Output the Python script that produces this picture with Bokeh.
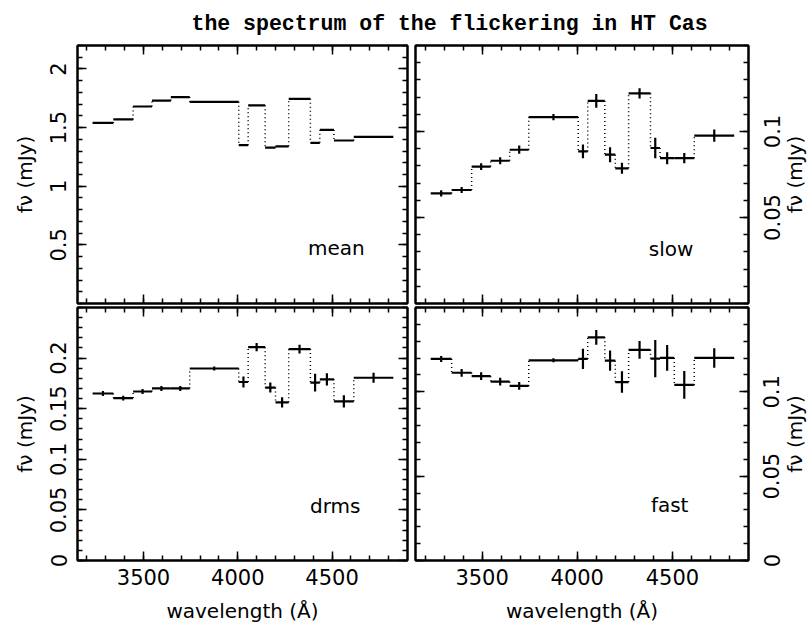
import math
import numpy as np
from bokeh.plotting import figure
from bokeh.models import (LinearAxis, FixedTicker, PrintfTickFormatter, Range1d,
                          Label, ColumnDataSource)
from bokeh.layouts import column, row
from bokeh.embed import file_html
from bokeh.resources import INLINE

# ---------------- data ----------------
bin_edges = [3230, 3340, 3445, 3545, 3645, 3745, 4005, 4055, 4145, 4200,
             4270, 4385, 4435, 4510, 4615, 4825]

mean_flux = [1.54, 1.57, 1.68, 1.73, 1.76, 1.72, 1.35, 1.69, 1.33, 1.34,
             1.745, 1.37, 1.48, 1.39, 1.42]

slow_flux = [0.064, 0.066, 0.0796, 0.083, 0.0894, 0.1084, 0.0884, 0.1178,
             0.0865, 0.0786, 0.1222, 0.0904, 0.0845, 0.0845, 0.0976]
slow_err = [0.0018, 0.0018, 0.002, 0.002, 0.0024, 0.0018, 0.004, 0.004,
            0.0044, 0.0032, 0.003, 0.006, 0.0035, 0.003, 0.0035]

drms_flux = [0.165, 0.1605, 0.167, 0.170, 0.170, 0.1897, 0.1764, 0.2108,
             0.1709, 0.1563, 0.2089, 0.1758, 0.179, 0.1573, 0.1806]
drms_err = [0.0024, 0.0024, 0.0024, 0.0024, 0.0024, 0.002, 0.0054, 0.004,
            0.005, 0.005, 0.0044, 0.0088, 0.006, 0.006, 0.005]

fast_flux = [0.1195, 0.1113, 0.1093, 0.106, 0.1035, 0.1187, 0.1195, 0.1323,
             0.1185, 0.1058, 0.1249, 0.1197, 0.1201, 0.1041, 0.1201]
fast_err = [0.0018, 0.0023, 0.0023, 0.0023, 0.0023, 0.0012, 0.006, 0.0044,
            0.006, 0.0064, 0.0053, 0.011, 0.0076, 0.0082, 0.0058]

x_major = [3500, 4000, 4500]
mean_major = [0.5, 1, 1.5, 2]
slow_major = [0.05, 0.1]
drms_major = [0, 0.05, 0.1, 0.15, 0.2]
fast_major = [0, 0.05, 0.1]

title_text = "the spectrum of the flickering in HT Cas"
y_label = "f\u03bd (mJy)"
x_label = "wavelength (\u00c5)"

# ---------------- styling ----------------
FONT = "DejaVu Sans"
FS = "20px"
TFS = "21px"
X_RANGE = (3150, 4900)


def make_fig(w, h, mbl, mbr, mbt, mbb, y_range):
    p = figure(width=w, height=h, x_range=Range1d(*X_RANGE),
               y_range=y_range, x_axis_location=None,
               y_axis_location=None, toolbar_location=None, tools="",
               output_backend="svg", min_border_left=mbl, min_border_right=mbr,
               min_border_top=mbt, min_border_bottom=mbb)
    p.outline_line_color = "black"
    p.outline_line_width = 2
    p.xgrid.visible = False
    p.ygrid.visible = False
    p.background_fill_color = "white"
    p.border_fill_color = "white"
    return p


def add_axis(p, side, ticker, labeled, axis_label=None, orient=None,
             standoff=8, label_standoff=8):
    ax = LinearAxis(ticker=ticker, formatter=PrintfTickFormatter(format="%g"))
    ax.major_tick_in = 9
    ax.major_tick_out = 0
    ax.minor_tick_in = 5
    ax.minor_tick_out = 0
    ax.major_tick_line_width = 1.5
    ax.minor_tick_line_width = 1.5
    ax.axis_line_width = 2
    if labeled:
        ax.major_label_text_font = FONT
        ax.major_label_text_font_size = TFS
        ax.major_label_text_color = "black"
        ax.major_label_standoff = standoff
        if orient is not None:
            ax.major_label_orientation = orient
    else:
        ax.major_label_text_color = None
        ax.major_label_standoff = 0
    if axis_label:
        ax.axis_label = axis_label
        ax.axis_label_text_font = FONT
        ax.axis_label_text_font_size = FS
        ax.axis_label_text_font_style = "normal"
        ax.axis_label_text_color = "black"
        ax.axis_label_standoff = label_standoff
    p.add_layout(ax, side)
    return ax


def side_strip(w, h, mbt, mbb, y_range, ticker, mode):
    """Narrow strip to the right of a panel, sharing its y range, that holds
    the right-hand tick numbers or the right-hand axis title (read upward)."""
    s = figure(width=w, height=h, x_range=Range1d(0, 1), y_range=y_range,
               x_axis_location=None, y_axis_location=None,
               toolbar_location=None, tools="", output_backend="svg",
               min_border_left=w - 1, min_border_right=0,
               min_border_top=mbt, min_border_bottom=mbb)
    s.outline_line_color = None
    s.xgrid.visible = False
    s.ygrid.visible = False
    s.background_fill_color = "white"
    s.border_fill_color = "white"
    ax = LinearAxis(ticker=ticker, formatter=PrintfTickFormatter(format="%g"))
    ax.major_tick_in = 0
    ax.major_tick_out = 0
    ax.minor_tick_in = 0
    ax.minor_tick_out = 0
    ax.axis_line_color = None
    ax.major_tick_line_color = None
    ax.minor_tick_line_color = None
    if mode == "ticks":
        ax.major_label_text_font = FONT
        ax.major_label_text_font_size = TFS
        ax.major_label_text_color = "black"
        ax.major_label_orientation = "parallel"
        ax.major_label_standoff = 3
    else:
        ax.major_label_text_color = None
        ax.major_label_standoff = 0
        ax.axis_label = y_label
        ax.axis_label_text_font = FONT
        ax.axis_label_text_font_size = FS
        ax.axis_label_text_font_style = "normal"
        ax.axis_label_text_color = "black"
        ax.axis_label_standoff = 3
    s.add_layout(ax, "left")
    return s


def draw_steps(p, vals, errs=None):
    e = np.array(bin_edges, dtype=float)
    v = np.array(vals, dtype=float)
    src = ColumnDataSource(dict(x0=e[:-1], x1=e[1:], y=v))
    p.segment(x0="x0", y0="y", x1="x1", y1="y", source=src,
              line_width=2.2, line_color="black")
    con = ColumnDataSource(dict(x=e[1:-1], ya=v[:-1], yb=v[1:]))
    p.segment(x0="x", y0="ya", x1="x", y1="yb", source=con,
              line_width=1.5, line_color="black", line_dash="1 3")
    if errs is not None:
        er = np.array(errs, dtype=float)
        xc = (e[:-1] + e[1:]) / 2.0
        esrc = ColumnDataSource(dict(x=xc, lo=v - er, hi=v + er))
        p.segment(x0="x", y0="lo", x1="x", y1="hi", source=esrc,
                  line_width=2.2, line_color="black")


def panel_label(p, x, y, text):
    p.add_layout(Label(x=x, y=y, text=text, text_font=FONT, text_font_size=FS,
                       text_baseline="middle", text_align="left",
                       text_color="black"))


x_minor = list(np.arange(3200, 4900, 100))


def xt():
    return FixedTicker(ticks=x_major, minor_ticks=x_minor)


def yt(major, step, top):
    minor = [round(float(t), 4) for t in np.arange(0, top + step / 2, step)]
    return FixedTicker(ticks=major, minor_ticks=minor)


# ---------------- title strip ----------------
TW, TH = 809, 40
tfig = figure(width=TW, height=TH, toolbar_location=None, tools="",
              output_backend="svg", x_axis_location=None, y_axis_location=None,
              min_border=0, x_range=Range1d(0, TW), y_range=Range1d(0, TH))
tfig.outline_line_color = None
tfig.xgrid.visible = False
tfig.ygrid.visible = False
tfig.add_layout(Label(x=191, y=TH - 23.5, text=title_text,
                      text_font="Liberation Mono",
                      text_font_size="21.5px", text_font_style="bold",
                      text_baseline="alphabetic", text_align="left",
                      text_color="black"))

# sizes
LW = 411          # left figures
RW = 339          # right figures (frame ends at x=748)
S1W, S2W = 33, 26  # strips for right tick numbers / right axis title
TOP_H, BOT_H = 265, 320

# ---------------- panels ----------------
# top-left: mean
tl = make_fig(LW, TOP_H, 77, 4, 5, 2, Range1d(0, 2.2))
add_axis(tl, "left", yt(mean_major, 0.1, 2.2), True, y_label,
         orient="parallel", standoff=11, label_standoff=11)
add_axis(tl, "right", yt(mean_major, 0.1, 2.2), False)
add_axis(tl, "below", xt(), False)
add_axis(tl, "above", xt(), False)
draw_steps(tl, mean_flux)
panel_label(tl, 4372, 0.475, "mean")

# top-right: slow
slow_range = Range1d(0, 0.15)
tr = make_fig(RW, TOP_H, 4, 2, 5, 2, slow_range)
add_axis(tr, "right", yt(slow_major, 0.01, 0.15), False)
add_axis(tr, "left", yt(slow_major, 0.01, 0.15), False)
add_axis(tr, "below", xt(), False)
add_axis(tr, "above", xt(), False)
draw_steps(tr, slow_flux, slow_err)
panel_label(tr, 4376, 0.0318, "slow")
tr_s1 = side_strip(S1W, TOP_H, 5, 2, slow_range,
                   yt(slow_major, 0.01, 0.15), "ticks")
tr_s2 = side_strip(S2W, TOP_H, 5, 2, slow_range,
                   yt(slow_major, 0.01, 0.15), "title")

# bottom-left: drms
bl = make_fig(LW, BOT_H, 77, 4, 2, 60, Range1d(0, 0.25))
add_axis(bl, "left", yt(drms_major, 0.01, 0.25), True, y_label,
         orient="parallel", standoff=11, label_standoff=11)
add_axis(bl, "right", yt(drms_major, 0.01, 0.25), False)
add_axis(bl, "below", xt(), True, x_label, standoff=8, label_standoff=11)
add_axis(bl, "above", xt(), False)
draw_steps(bl, drms_flux, drms_err)
panel_label(bl, 4383, 0.054, "drms")

# bottom-right: fast
fast_range = Range1d(0, 0.15)
br = make_fig(RW, BOT_H, 4, 2, 2, 60, fast_range)
add_axis(br, "right", yt(fast_major, 0.01, 0.15), False)
add_axis(br, "left", yt(fast_major, 0.01, 0.15), False)
add_axis(br, "below", xt(), True, x_label, standoff=8, label_standoff=11)
add_axis(br, "above", xt(), False)
draw_steps(br, fast_flux, fast_err)
panel_label(br, 4387, 0.033, "fast")
br_s1 = side_strip(S1W, BOT_H, 2, 60, fast_range,
                   yt(fast_major, 0.01, 0.15), "ticks")
br_s2 = side_strip(S2W, BOT_H, 2, 60, fast_range,
                   yt(fast_major, 0.01, 0.15), "title")

layout = column(tfig, row(tl, tr, tr_s1, tr_s2), row(bl, br, br_s1, br_s2))

open("out.html", "w").write(file_html(layout, INLINE))
